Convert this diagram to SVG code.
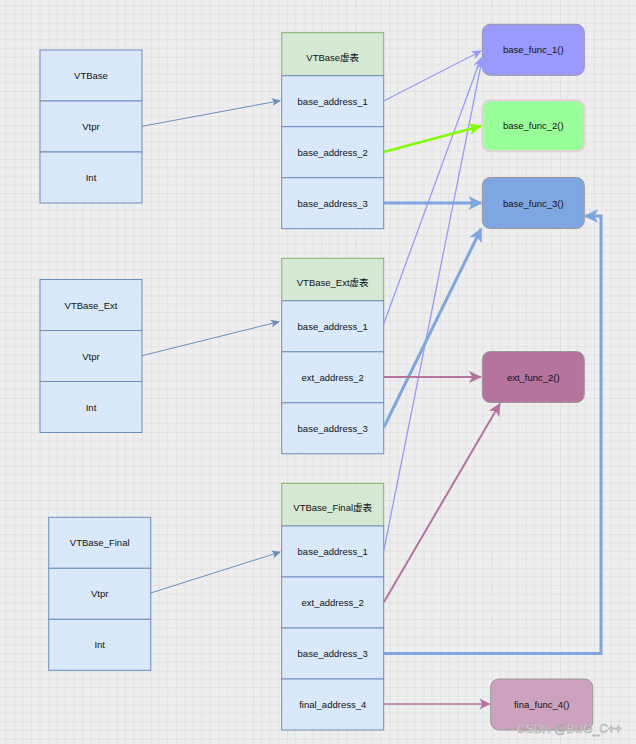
<svg xmlns="http://www.w3.org/2000/svg" width="636" height="744" viewBox="0 0 636 744">
<style>
.t{font-family:"Liberation Sans","Noto Sans CJK SC",Arial,sans-serif;font-size:9.5px;fill:#111;text-anchor:middle;dominant-baseline:central}
.cell{fill:#dae8fc;stroke:#6c8ebf;stroke-width:1}
.head{fill:#d5e8d4;stroke:#82b366;stroke-width:1}
.fn{stroke:#999999;stroke-width:1}
.c{fill:none;stroke-linecap:butt}
</style>
<defs>
<pattern id="grid" x="14.3" y="22.7" width="34.1" height="34.1" patternUnits="userSpaceOnUse">
<path d="M8.525,0V34.1M17.05,0V34.1M25.575,0V34.1M0,8.525H34.1M0,17.05H34.1M0,25.575H34.1" stroke="#e3e3e3" stroke-width="1" fill="none"/>
<path d="M0,0V34.1M0,0H34.1" stroke="#d6d6d6" stroke-width="1" fill="none"/>
</pattern>
<marker id="aV" markerUnits="userSpaceOnUse" markerWidth="9" markerHeight="8" refX="8" refY="4" orient="auto" overflow="visible"><path d="M0,0L9,4L0,8L2,4Z" fill="#6c8ebf"/></marker>
<marker id="aP" markerUnits="userSpaceOnUse" markerWidth="10" markerHeight="9" refX="9" refY="4.5" orient="auto" overflow="visible"><path d="M0,0L10,4.5L0,9L2.5,4.5Z" fill="#9999ff"/></marker>
<marker id="aG" markerUnits="userSpaceOnUse" markerWidth="13" markerHeight="12" refX="12" refY="6" orient="auto" overflow="visible"><path d="M0,0L13,6L0,12L3.3,6Z" fill="#80ff00"/></marker>
<marker id="aB" markerUnits="userSpaceOnUse" markerWidth="14" markerHeight="14" refX="12.5" refY="7" orient="auto" overflow="visible"><path d="M0,0L14,7L0,14L3.5,7Z" fill="#7ea6e0"/></marker>
<marker id="aM" markerUnits="userSpaceOnUse" markerWidth="13" markerHeight="12" refX="12" refY="6" orient="auto" overflow="visible"><path d="M0,0L13,6L0,12L3.3,6Z" fill="#b5739d"/></marker>
<marker id="aM2" markerUnits="userSpaceOnUse" markerWidth="11" markerHeight="11" refX="10" refY="5.5" orient="auto" overflow="visible"><path d="M0,0L11,5.5L0,11L2.8,5.5Z" fill="#b5739d"/></marker>
</defs>
<rect width="636" height="744" fill="#eeeeee"/>
<rect width="636" height="744" fill="url(#grid)"/>

<g id="VTBase">
<rect class="cell" x="40" y="50" width="102" height="51"/>
<rect class="cell" x="40" y="101" width="102" height="51"/>
<rect class="cell" x="40" y="152" width="102" height="51"/>
<text class="t" x="91" y="75.5">VTBase</text>
<text class="t" x="91" y="126.5">Vtpr</text>
<text class="t" x="91" y="177.5">Int</text>
</g>
<g id="VTBase_Ext">
<rect class="cell" x="40" y="279.5" width="102" height="51"/>
<rect class="cell" x="40" y="330.5" width="102" height="51"/>
<rect class="cell" x="40" y="381.5" width="102" height="51"/>
<text class="t" x="91" y="305">VTBase_Ext</text>
<text class="t" x="91" y="356">Vtpr</text>
<text class="t" x="91" y="407">Int</text>
</g>
<g id="VTBase_Final">
<rect class="cell" x="48.7" y="517.3" width="102" height="51"/>
<rect class="cell" x="48.7" y="568.3" width="102" height="51"/>
<rect class="cell" x="48.7" y="619.3" width="102" height="51"/>
<text class="t" x="99.7" y="542.8">VTBase_Final</text>
<text class="t" x="99.7" y="593.8">Vtpr</text>
<text class="t" x="99.7" y="644.8">Int</text>
</g>

<g id="VTBase_vtable">
<rect class="head" x="281.7" y="32.7" width="102" height="43"/>
<rect class="cell" x="281.7" y="75.7" width="102" height="51"/>
<rect class="cell" x="281.7" y="126.7" width="102" height="51"/>
<rect class="cell" x="281.7" y="177.7" width="102" height="51"/>
<text class="t" x="332.7" y="57">VTBase虚表</text>
<text class="t" x="332.7" y="101.2">base_address_1</text>
<text class="t" x="332.7" y="152.2">base_address_2</text>
<text class="t" x="332.7" y="203.2">base_address_3</text>
</g>
<g id="VTBase_Ext_vtable">
<rect class="head" x="281.7" y="258.3" width="102" height="42.5"/>
<rect class="cell" x="281.7" y="300.8" width="102" height="51"/>
<rect class="cell" x="281.7" y="351.8" width="102" height="51"/>
<rect class="cell" x="281.7" y="402.8" width="102" height="51"/>
<text class="t" x="332.7" y="282.5">VTBase_Ext虚表</text>
<text class="t" x="332.7" y="326.3">base_address_1</text>
<text class="t" x="332.7" y="377.3">ext_address_2</text>
<text class="t" x="332.7" y="428.3">base_address_3</text>
</g>
<g id="VTBase_Final_vtable">
<rect class="head" x="281.7" y="483.3" width="102" height="42.7"/>
<rect class="cell" x="281.7" y="526" width="102" height="51"/>
<rect class="cell" x="281.7" y="577" width="102" height="51"/>
<rect class="cell" x="281.7" y="628" width="102" height="51"/>
<rect class="cell" x="281.7" y="679" width="102" height="51"/>
<text class="t" x="332.7" y="507.5">VTBase_Final虚表</text>
<text class="t" x="332.7" y="551.5">base_address_1</text>
<text class="t" x="332.7" y="602.5">ext_address_2</text>
<text class="t" x="332.7" y="653.5">base_address_3</text>
<text class="t" x="332.7" y="704.5">final_address_4</text>
</g>

<g id="base_func_1">
<rect class="fn" x="482.3" y="24.3" width="102" height="51" rx="8" fill="#9999ff"/>
<text class="t" x="533.3" y="49.8">base_func_1()</text>
</g>
<g id="base_func_2">
<rect x="482.3" y="100.3" width="102" height="51" rx="8" fill="#99ff99" stroke="#e6d0de" stroke-width="2"/>
<text class="t" x="533.3" y="125.8">base_func_2()</text>
</g>
<g id="base_func_3">
<rect class="fn" x="482.3" y="177.5" width="102" height="51" rx="8" fill="#7ea6e0"/>
<text class="t" x="533.3" y="203">base_func_3()</text>
</g>
<g id="ext_func_2">
<rect class="fn" x="482.3" y="351.5" width="102" height="51" rx="8" fill="#b5739d"/>
<text class="t" x="533.3" y="377">ext_func_2()</text>
</g>
<g id="fina_func_4">
<rect class="fn" x="490.7" y="679" width="102" height="51" rx="8" fill="#cda2be"/>
<text class="t" x="541.7" y="704.5">fina_func_4()</text>
</g>

<g id="connectors">
<path class="c" d="M142,126.3L280,100.7" stroke="#6c8ebf" stroke-width="1" marker-end="url(#aV)"/>
<path class="c" d="M142,355.7L279,321.7" stroke="#6c8ebf" stroke-width="1" marker-end="url(#aV)"/>
<path class="c" d="M150.7,593L280,552" stroke="#6c8ebf" stroke-width="1" marker-end="url(#aV)"/>
<path class="c" d="M383.7,101L481,51" stroke="#9999ff" stroke-width="1.3" marker-end="url(#aP)"/>
<path class="c" d="M383.7,324L481,58" stroke="#9999ff" stroke-width="1.3" marker-end="url(#aP)"/>
<path class="c" d="M383.7,551L482,60" stroke="#9999ff" stroke-width="1.3" marker-end="url(#aP)"/>
<path class="c" d="M383.7,152L481,126" stroke="#80ff00" stroke-width="2.5" marker-end="url(#aG)"/>
<path class="c" d="M383.7,203L481,203" stroke="#7ea6e0" stroke-width="3" marker-end="url(#aB)"/>
<path class="c" d="M384,427L481,229" stroke="#7ea6e0" stroke-width="3" marker-end="url(#aB)"/>
<path class="c" d="M384,653.5H601V216H585.5" stroke="#7ea6e0" stroke-width="3" marker-end="url(#aB)"/>
<path class="c" d="M384,377L481,377" stroke="#b5739d" stroke-width="2" marker-end="url(#aM)"/>
<path class="c" d="M384,602L500,403.5" stroke="#b5739d" stroke-width="2" marker-end="url(#aM)"/>
<path class="c" d="M384,704L489.5,704" stroke="#b5739d" stroke-width="1.5" marker-end="url(#aM2)"/>
</g>

<text x="517" y="732.5" font-family="'Liberation Sans',Arial,sans-serif" font-size="12" fill="#f6f6f6" stroke="#9a9a9a" stroke-width="0.5">CSDN @BUG_C++</text>
</svg>
